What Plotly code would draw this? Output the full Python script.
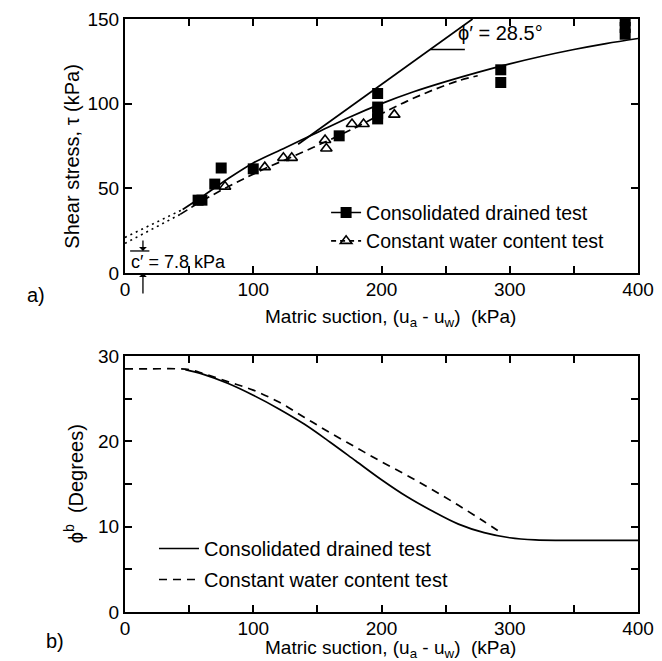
import plotly.graph_objects as go

FONT = "Liberation Sans, Arial, sans-serif"

# ---------------- Panel a) : shear stress vs matric suction ----------------
# Consolidated drained test (filled squares)
cd_x = [57, 60, 70, 75, 100, 167, 197, 197, 197, 197, 293, 293, 390, 390, 390]
cd_y = [43, 43, 52.5, 62, 61.5, 81, 106, 98, 94, 91, 120, 112.5, 149, 145, 141]
# Constant water content test (open triangles)
cw_x = [78, 109, 123.5, 130, 156, 157, 177, 186, 210]
cw_y = [51, 62.5, 68, 68, 78.5, 73.5, 88, 88, 93.5]

# Fitted envelopes
cd_fit_x = [45, 60, 80, 100, 125, 150, 175, 200, 225, 250, 275, 300, 325, 350, 375, 400]
cd_fit_y = [37.5, 45, 55.5, 65, 74, 83, 92, 100, 107, 113, 118.5, 123.5, 128, 132, 135.5, 138.5]
cd_ext_x = [0, 45]
cd_ext_y = [21, 37.5]

cw_fit_x = [43, 60, 78, 95, 110, 130, 155, 180, 200, 220, 240, 260, 275]
cw_fit_y = [34.6, 42.5, 50, 56.5, 62, 68.5, 77, 86, 94, 101.5, 108, 113.5, 116.5]
cw_ext_x = [0, 43]
cw_ext_y = [17.5, 34.6]

# phi' = 28.5 deg straight envelope
phi_x = [135, 271]
phi_y = [76, 150]

# ---------------- Panel b) : phi_b vs matric suction ----------------
cd_phib_x = [47, 60, 80, 100, 120, 140, 160, 180, 200, 220, 240, 260, 280, 300, 320, 340, 360, 380, 400]
cd_phib_y = [28.4, 27.9, 26.8, 25.4, 23.8, 22.0, 19.9, 17.7, 15.5, 13.5, 11.8, 10.3, 9.3, 8.7, 8.45, 8.4, 8.4, 8.4, 8.4]
cw_phib_x = [0, 20, 40, 50, 60, 80, 100, 120, 140, 160, 180, 200, 220, 240, 260, 280, 294]
cw_phib_y = [28.5, 28.5, 28.5, 28.4, 28.0, 27.0, 26.0, 24.6, 22.8, 21.0, 19.3, 17.6, 16.0, 14.3, 12.5, 10.6, 9.2]

x_ticks = [0, 100, 200, 300, 400]

LW = 1.7
fig = go.Figure()

# --- panel a traces
fig.add_trace(go.Scatter(x=cd_ext_x, y=cd_ext_y, mode="lines", xaxis="x", yaxis="y",
                         line=dict(color="black", width=1.6, dash="2px,4px"), showlegend=False))
fig.add_trace(go.Scatter(x=cw_ext_x, y=cw_ext_y, mode="lines", xaxis="x", yaxis="y",
                         line=dict(color="black", width=1.6, dash="2px,4px"), showlegend=False))
fig.add_trace(go.Scatter(x=cd_fit_x, y=cd_fit_y, mode="lines", xaxis="x", yaxis="y",
                         line=dict(color="black", width=LW, shape="spline"), showlegend=False))
fig.add_trace(go.Scatter(x=cw_fit_x, y=cw_fit_y, mode="lines", xaxis="x", yaxis="y",
                         line=dict(color="black", width=LW, dash="8px,5px", shape="spline"), showlegend=False))
fig.add_trace(go.Scatter(x=phi_x, y=phi_y, mode="lines", xaxis="x", yaxis="y",
                         line=dict(color="black", width=LW), showlegend=False))
fig.add_trace(go.Scatter(x=cd_x, y=cd_y, mode="markers", xaxis="x", yaxis="y",
                         marker=dict(symbol="square", size=11, color="black"), showlegend=False))
fig.add_trace(go.Scatter(x=cw_x, y=cw_y, mode="markers", xaxis="x", yaxis="y",
                         marker=dict(symbol="triangle-up-open", size=10, color="black",
                                     line=dict(width=1.6, color="black")), showlegend=False))
# legend entries for panel a
fig.add_trace(go.Scatter(x=[None], y=[None], mode="lines+markers", xaxis="x", yaxis="y",
                         name="Consolidated drained test", legend="legend",
                         line=dict(color="black", width=LW),
                         marker=dict(symbol="square", size=11, color="black")))
fig.add_trace(go.Scatter(x=[None], y=[None], mode="lines+markers", xaxis="x", yaxis="y",
                         name="Constant water content test", legend="legend",
                         line=dict(color="black", width=LW, dash="5px,4px"),
                         marker=dict(symbol="triangle-up-open", size=10, color="black",
                                     line=dict(width=1.6, color="black"))))

# --- panel b traces
fig.add_trace(go.Scatter(x=cd_phib_x, y=cd_phib_y, mode="lines", xaxis="x2", yaxis="y2",
                         name="Consolidated drained test", legend="legend2", legendgroup="g1",
                         line=dict(color="black", width=LW, shape="spline")))
fig.add_trace(go.Scatter(x=cw_phib_x, y=cw_phib_y, mode="lines", xaxis="x2", yaxis="y2",
                         name="Constant water content test", legend="legend2", legendgroup="g2",
                         line=dict(color="black", width=LW, dash="8px,6px", shape="spline")))

tick_common = dict(showline=True, linecolor="black", linewidth=2, mirror="allticks",
                   ticks="inside", ticklen=7, tickwidth=1.5, tickcolor="black",
                   showgrid=False, zeroline=False, automargin=False,
                   tickfont=dict(size=19, color="black", family=FONT))
minor_x = dict(dtick=50, ticks="inside", ticklen=7, tickwidth=1.5, tickcolor="black", showgrid=False)

TOP_LO = 0.5717
BOT_HI = 0.4317

fig.update_layout(
    width=662, height=661,
    margin=dict(l=117, r=32, t=11, b=57),
    paper_bgcolor="white", plot_bgcolor="white",
    font=dict(family=FONT, size=20, color="black"),
    xaxis=dict(domain=[0, 1], anchor="y", range=[0, 400], tickvals=x_ticks,
               minor=minor_x, ticklabelstandoff=-2, **tick_common),
    yaxis=dict(domain=[TOP_LO, 1], anchor="x", range=[0, 150], dtick=50, **tick_common),
    xaxis2=dict(domain=[0, 1], anchor="y2", range=[0, 400], tickvals=x_ticks,
                minor=minor_x, ticklabelstandoff=-2, **tick_common),
    yaxis2=dict(domain=[0, BOT_HI], anchor="x2", range=[0, 30], dtick=10,
                minor=dict(dtick=5, ticks="inside", ticklen=7, tickwidth=1.5, tickcolor="black"),
                **tick_common),
    legend=dict(x=0.392, y=0.706, xanchor="left", yanchor="top", bgcolor="rgba(0,0,0,0)",
                font=dict(size=19.5, family=FONT, color="black"), itemwidth=30),
    legend2=dict(x=0.0565, y=0.140, xanchor="left", yanchor="top", bgcolor="rgba(0,0,0,0)",
                 font=dict(size=20, family=FONT, color="black"), itemwidth=40,
                 traceorder="grouped", tracegroupgap=2),
    showlegend=True,
)

ann = []
# axis titles
ann.append(dict(text="Matric suction, (u<sub>a</sub> - u<sub>w</sub>)  (kPa)", xref="paper", yref="paper",
                x=0.5185, y=0.4958, xanchor="center", yanchor="middle", showarrow=False, font=dict(size=19)))
ann.append(dict(text="Matric suction, (u<sub>a</sub> - u<sub>w</sub>)  (kPa)", xref="paper", yref="paper",
                x=0.5185, y=-0.0624, xanchor="center", yanchor="middle", showarrow=False, font=dict(size=19)))
ann.append(dict(text="Shear stress, τ (kPa)", xref="paper", yref="paper", textangle=-90,
                x=-0.105, y=0.768, xanchor="center", yanchor="middle", showarrow=False, font=dict(size=20)))
ann.append(dict(text="ϕ<sup>b</sup>  (Degrees)", xref="paper", yref="paper", textangle=-90,
                x=-0.101, y=0.2158, xanchor="center", yanchor="middle", showarrow=False, font=dict(size=20)))
ann.append(dict(text="a)", xref="paper", yref="paper", x=-0.195, y=0.5346, xanchor="left",
                yanchor="middle", showarrow=False, font=dict(size=20)))
ann.append(dict(text="b)", xref="paper", yref="paper", x=-0.158, y=-0.049, xanchor="left",
                yanchor="middle", showarrow=False, font=dict(size=20)))
# phi' label
ann.append(dict(text="ϕ′ = 28.5°", xref="x", yref="y", x=258, y=141.5, xanchor="left",
                yanchor="middle", showarrow=False, font=dict(size=20)))
# c' label
ann.append(dict(text="c′ = 7.8 kPa", xref="x", yref="y", x=3, y=6.5, xanchor="left",
                yanchor="middle", showarrow=False, font=dict(size=18)))
ann.append(dict(text="", xref="x", yref="y", x=14, y=13, ax=0, ay=-12, showarrow=True,
                arrowhead=1, arrowsize=1, arrowwidth=1.3, arrowcolor="black"))
ann.append(dict(text="", xref="x", yref="y", x=14, y=0, ax=0, ay=22, showarrow=True,
                arrowhead=1, arrowsize=1, arrowwidth=1.3, arrowcolor="black"))
fig.update_layout(annotations=ann)

fig.update_layout(shapes=[
    dict(type="line", xref="x", yref="y", x0=238, x1=265, y0=132, y1=132,
         line=dict(color="black", width=1.3)),
    dict(type="line", xref="x", yref="y", x0=4, x1=19, y0=13, y1=13,
         line=dict(color="black", width=1.3)),
])

fig.write_html("out.html")
